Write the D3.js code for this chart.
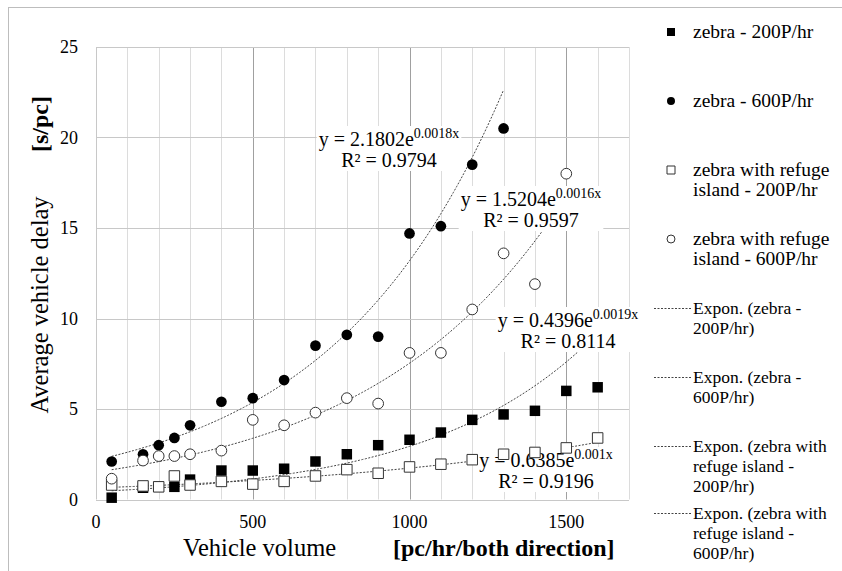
<!DOCTYPE html>
<html>
<head>
<meta charset="utf-8">
<script src="https://d3js.org/d3.v7.min.js"></script>
<style>
  body { margin: 0; background: #fff; }
  text { font-family: "Liberation Serif", "Times New Roman", serif; fill: #000; }
</style>
</head>
<body>
<svg id="chart" width="842" height="571"></svg>
<script>

// data
var volume = [50, 150, 200, 250, 300, 400, 500, 600, 700, 800, 900, 1000, 1100, 1200, 1300, 1400, 1500, 1600]
var zebra200 = [0.1, 0.65, 0.7, 0.7, 1.1, 1.6, 1.6, 1.7, 2.1, 2.5, 3.0, 3.3, 3.7, 4.4, 4.7, 4.9, 6.0, 6.2]
var zebra600 = [2.1, 2.5, 3.0, 3.4, 4.1, 5.4, 5.6, 6.6, 8.5, 9.1, 9.0, 14.7, 15.1, 18.5, 20.5, null, null, null]
var refuge200 = [0.8, 0.75, 0.7, 1.3, 0.8, 1.0, 0.85, 1.0, 1.3, 1.65, 1.45, 1.8, 1.95, 2.2, 2.5, 2.6, 2.85, 3.4]
var refuge600 = [1.15, 2.15, 2.4, 2.4, 2.5, 2.7, 4.4, 4.1, 4.8, 5.6, 5.3, 8.1, 8.1, 10.5, 13.6, 11.9, 18.0, null]

var seriesNames = ["zebra - 200P/hr", "zebra - 600P/hr", "zebra with refuge island - 200P/hr", "zebra with refuge island - 600P/hr"]
var seriesValues = [zebra200, zebra600, refuge200, refuge600]

// exponential trendline y = a * e^(b x), as printed on the chart
var trendA = [0.4396, 2.1802, 0.6385, 1.5204]
var trendB = [0.0019, 0.0018, 0.001, 0.0016]
var trendR2 = ["0.8114", "0.9794", "0.9196", "0.9597"]
var trendAText = ["0.4396", "2.1802", "0.6385", "1.5204"]
var trendBText = ["0.0019x", "0.0018x", "0.001x", "0.0016x"]

var xTicks = [0, 500, 1000, 1500]
var yTicks = [0, 5, 10, 15, 20, 25]

var svg = d3.select("#chart")

// outer chart frame
svg.append("rect")
  .attr("x", 8.5).attr("y", 7.5)
  .attr("width", 900).attr("height", 600)
  .attr("fill", "#fff")
  .attr("stroke", "#bdbdbd")

var x = d3.scaleLinear().domain([0, 1700]).range([96, 629])
var y = d3.scaleLinear().domain([0, 25]).range([499.5, 47])

// gridlines
var g = svg.append("g")
g.selectAll(".vminor")
  .data(d3.range(100, 1701, 100))
  .enter().append("line")
    .attr("x1", function(d) { return Math.round(x(d)) + 0.5 })
    .attr("x2", function(d) { return Math.round(x(d)) + 0.5 })
    .attr("y1", y(25)).attr("y2", y(0))
    .attr("stroke", function(d) { return d % 500 == 0 ? "#a0a0a0" : "#dcdcdc" })
g.selectAll(".hgrid")
  .data(yTicks)
  .enter().append("line")
    .attr("x1", x(0)).attr("x2", x(1700))
    .attr("y1", function(d) { return Math.round(y(d)) + 0.5 })
    .attr("y2", function(d) { return Math.round(y(d)) + 0.5 })
    .attr("stroke", "#c8c8c8")
g.append("line")
  .attr("x1", x(0) + 0.5).attr("x2", x(0) + 0.5)
  .attr("y1", y(25)).attr("y2", y(0))
  .attr("stroke", "#c8c8c8")

// tick labels
svg.selectAll(".xt")
  .data(xTicks)
  .enter().append("text")
    .attr("x", function(d) { return x(d) })
    .attr("y", 528)
    .attr("text-anchor", "middle")
    .style("font-size", "18px")
    .text(function(d) { return d })
svg.selectAll(".yt")
  .data(yTicks)
  .enter().append("text")
    .attr("x", 78)
    .attr("y", function(d) { return y(d) + 6 })
    .attr("text-anchor", "end")
    .style("font-size", "18px")
    .text(function(d) { return d })

// axis titles
svg.append("text")
  .attr("x", 183).attr("y", 556)
  .style("font-size", "24.5px")
  .text("Vehicle volume")
svg.append("text")
  .attr("x", 393).attr("y", 556)
  .style("font-size", "24px")
  .style("font-weight", "bold")
  .text("[pc/hr/both direction]")
svg.append("text")
  .attr("transform", "translate(48,305) rotate(-90)")
  .attr("text-anchor", "middle")
  .style("font-size", "24.5px")
  .text("Average vehicle delay")
svg.append("text")
  .attr("transform", "translate(48,124) rotate(-90)")
  .attr("text-anchor", "middle")
  .style("font-size", "24px")
  .style("font-weight", "bold")
  .text("[s/pc]")

// trendlines
var line = d3.line()
  .x(function(d) { return x(d[0]) })
  .y(function(d) { return y(d[1]) })

seriesValues.forEach(function(vals, i) {
  var xs = volume.filter(function(v, j) { return vals[j] != null })
  var pts = d3.range(d3.min(xs), d3.max(xs) + 1, 10).map(function(v) {
    return [v, trendA[i] * Math.exp(trendB[i] * v)]
  })
  svg.append("path")
    .attr("d", line(pts))
    .attr("fill", "none")
    .attr("stroke", "#444")
    .attr("stroke-width", 1)
    .attr("stroke-dasharray", "2,1.5")
})

// trendline equation labels
var labelPos = [[568, 327], [389, 146], [546, 467], [531, 206]]
seriesValues.forEach(function(vals, i) {
  var lg = svg.append("g")
  var t1 = lg.append("text")
    .attr("x", labelPos[i][0]).attr("y", labelPos[i][1])
    .attr("text-anchor", "middle")
    .style("font-size", "20px")
  t1.append("tspan").text("y = " + trendAText[i] + "e")
  t1.append("tspan").attr("dy", -8).style("font-size", "14px").text(trendBText[i])
  var t2 = lg.append("text")
    .attr("x", labelPos[i][0]).attr("y", labelPos[i][1] + 21)
    .attr("text-anchor", "middle")
    .style("font-size", "20px")
    .text("R\u00b2 = " + trendR2[i])
  var b1 = t1.node().getBBox(), b2 = t2.node().getBBox()
  var x0 = Math.min(b1.x, b2.x) - 2, x1 = Math.max(b1.x + b1.width, b2.x + b2.width) + 2
  lg.insert("rect", "text")
    .attr("x", x0).attr("y", b1.y)
    .attr("width", x1 - x0).attr("height", b2.y + b2.height - b1.y)
    .attr("fill", "#fff")
})

// markers
var symSquare = d3.symbol().type(d3.symbolSquare)
var symCircle = d3.symbol().type(d3.symbolCircle)
var markerSym = [symSquare.size(110), symCircle.size(90), symSquare.size(110), symCircle.size(90)]
var markerFill = ["#000", "#000", "#fff", "#fff"]

seriesValues.forEach(function(vals, i) {
  var pts = volume.map(function(v, j) { return [v, vals[j]] })
    .filter(function(d) { return d[1] != null })
  svg.selectAll(".m" + i)
    .data(pts)
    .enter().append("path")
      .attr("d", markerSym[i]())
      .attr("transform", function(d) { return "translate(" + x(d[0]) + "," + y(d[1]) + ")" })
      .attr("fill", markerFill[i])
      .attr("stroke", i < 2 ? "none" : "#333")
      .attr("stroke-width", 1)
})

// legend
var legendSym = [d3.symbol().type(d3.symbolSquare).size(64), d3.symbol().type(d3.symbolCircle).size(50),
                 d3.symbol().type(d3.symbolSquare).size(64), d3.symbol().type(d3.symbolCircle).size(50)]
var legendY = [32, 101, 170, 239]
var legendLines = [["zebra - 200P/hr"], ["zebra - 600P/hr"], ["zebra with refuge", "island - 200P/hr"], ["zebra with refuge", "island - 600P/hr"]]
var trendLegendY = [308, 377, 446, 513]
var trendLegendLines = [["Expon. (zebra -", "200P/hr)"], ["Expon. (zebra -", "600P/hr)"],
                        ["Expon. (zebra with", "refuge island -", "200P/hr)"], ["Expon. (zebra with", "refuge island -", "600P/hr)"]]

legendY.forEach(function(ly, i) {
  svg.append("path")
    .attr("d", legendSym[i]())
    .attr("transform", "translate(671," + ly + ")")
    .attr("fill", markerFill[i])
    .attr("stroke", i < 2 ? "none" : "#333")
  svg.selectAll(".lt" + i)
    .data(legendLines[i])
    .enter().append("text")
      .attr("x", 693)
      .attr("y", function(d, k) { return ly + 6 + k * 20 })
      .style("font-size", "19.5px")
      .text(function(d) { return d })
})

trendLegendY.forEach(function(ly, i) {
  svg.append("line")
    .attr("x1", 654).attr("x2", 692)
    .attr("y1", ly + 0.5).attr("y2", ly + 0.5)
    .attr("stroke", "#444")
    .attr("stroke-dasharray", "2,1.5")
  svg.selectAll(".tt" + i)
    .data(trendLegendLines[i])
    .enter().append("text")
      .attr("x", 693)
      .attr("y", function(d, k) { return ly + 6 + k * 20 })
      .style("font-size", "17.5px")
      .text(function(d) { return d })
})

</script>
</body>
</html>
